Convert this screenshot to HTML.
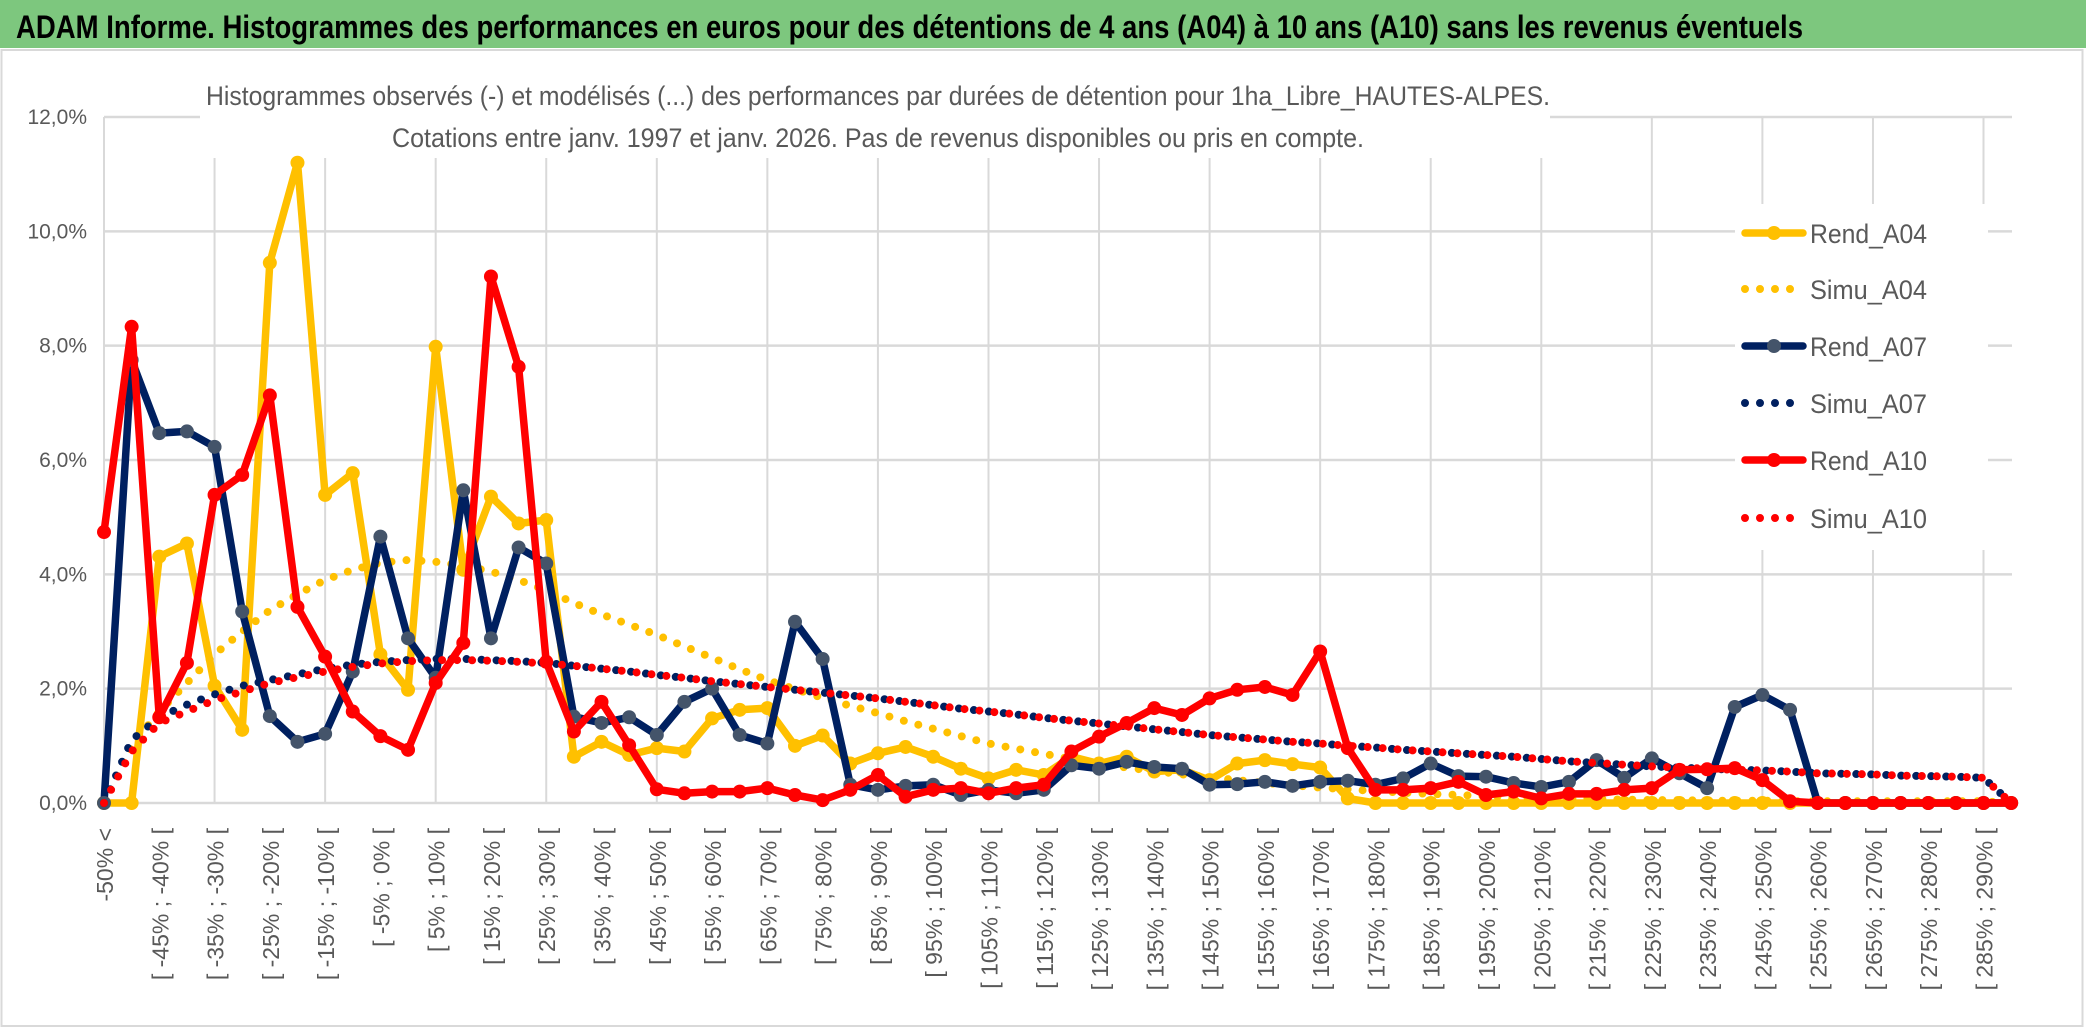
<!DOCTYPE html>
<html><head><meta charset="utf-8"><style>
html,body{margin:0;padding:0;background:#fff;}
svg{display:block;font-family:"Liberation Sans",sans-serif;}
</style></head><body>
<svg id="chart" width="2086" height="1031" viewBox="0 0 2086 1031" xmlns="http://www.w3.org/2000/svg">
<rect x="0" y="0" width="2086" height="1031" fill="#fff"/>
<rect x="0" y="0" width="2086" height="48" fill="#7DC77E"/>
<text x="16" y="38" font-size="32" font-weight="bold" fill="#000" textLength="1787" lengthAdjust="spacingAndGlyphs">ADAM Informe. Histogrammes des performances en euros pour des détentions de 4 ans (A04) à 10 ans (A10) sans les revenus éventuels</text>
<rect x="1.5" y="50" width="2081" height="976" fill="none" stroke="#d9d9d9" stroke-width="2"/>
<g id="grid"></g>
<rect x="200" y="60" width="1350" height="98" fill="#fff"/>
<text x="878" y="105" font-size="27" fill="#595959" text-anchor="middle" textLength="1344" lengthAdjust="spacingAndGlyphs">Histogrammes observés (-) et modélisés (...) des performances par durées de détention pour 1ha_Libre_HAUTES-ALPES.</text>
<text x="878" y="147" font-size="27" fill="#595959" text-anchor="middle" textLength="972" lengthAdjust="spacingAndGlyphs">Cotations entre janv. 1997 et janv. 2026. Pas de revenus disponibles ou pris en compte.</text>
<g id="yaxis"></g>
<g id="xaxis"></g>
<g id="series"></g>
<rect x="1735" y="204" width="253" height="346" fill="#fff"/>
<g id="legend"></g>
</svg>
<script>
const rendA04 = [0,0,4.31,4.54,2.05,1.28,9.45,11.2,5.39,5.77,2.6,1.98,7.98,4.08,5.36,4.89,4.95,0.81,1.07,0.84,0.96,0.9,1.48,1.63,1.66,1.0,1.18,0.69,0.87,0.98,0.81,0.6,0.43,0.58,0.49,0.81,0.69,0.81,0.55,0.58,0.4,0.69,0.75,0.68,0.62,0.08,0,0,0,0,0,0,0,0,0,0,0,0,0,0,0,0,0,0,0,0,0,0,0,0];
const rendA07 = [0,7.75,6.47,6.5,6.23,3.35,1.52,1.07,1.21,2.3,4.66,2.88,2.19,5.47,2.88,4.47,4.19,1.51,1.4,1.5,1.19,1.77,2.0,1.19,1.04,3.17,2.52,0.32,0.23,0.3,0.32,0.14,0.23,0.17,0.23,0.66,0.6,0.72,0.63,0.6,0.32,0.33,0.37,0.3,0.37,0.39,0.32,0.43,0.69,0.47,0.46,0.35,0.28,0.37,0.75,0.44,0.78,0.52,0.26,1.68,1.89,1.63,0,0,0,0,0,0,0,0];
const rendA10 = [4.74,8.33,1.5,2.45,5.39,5.74,7.13,3.43,2.56,1.6,1.17,0.93,2.1,2.8,9.21,7.63,2.47,1.25,1.77,1.01,0.24,0.17,0.2,0.2,0.26,0.14,0.05,0.23,0.49,0.11,0.23,0.26,0.17,0.26,0.32,0.9,1.16,1.4,1.66,1.54,1.83,1.98,2.03,1.89,2.65,0.96,0.23,0.23,0.26,0.37,0.14,0.2,0.08,0.16,0.16,0.23,0.26,0.58,0.59,0.61,0.4,0.03,0,0,0,0,0,0,0,0];
const simuA04 = [0,1.0,1.6,2.1,2.6,3.0,3.37,3.65,3.9,4.08,4.2,4.25,4.22,4.15,4.05,3.9,3.72,3.5,3.3,3.12,2.94,2.74,2.54,2.34,2.15,1.99,1.84,1.7,1.57,1.43,1.3,1.17,1.04,0.95,0.86,0.77,0.69,0.62,0.56,0.5,0.45,0.4,0.35,0.31,0.27,0.24,0.21,0.18,0.16,0.14,0.12,0.1,0.09,0.08,0.07,0.06,0.05,0.05,0.04,0.04,0.04,0.03,0.03,0.03,0.03,0.03,0.03,0.03,0.03,0];
const simuA07 = [0,1.1,1.5,1.72,1.9,2.05,2.15,2.25,2.35,2.42,2.47,2.5,2.52,2.52,2.5,2.48,2.45,2.4,2.35,2.3,2.24,2.19,2.13,2.08,2.03,1.98,1.93,1.88,1.83,1.77,1.71,1.65,1.6,1.55,1.49,1.44,1.39,1.34,1.29,1.24,1.19,1.15,1.11,1.07,1.04,1.0,0.97,0.93,0.9,0.87,0.84,0.81,0.77,0.73,0.7,0.67,0.64,0.62,0.6,0.58,0.57,0.55,0.52,0.51,0.5,0.48,0.47,0.46,0.44,0];
const simuA10 = [0,0.9,1.4,1.6,1.8,1.95,2.1,2.2,2.3,2.38,2.44,2.48,2.5,2.5,2.49,2.47,2.44,2.4,2.35,2.3,2.24,2.19,2.13,2.08,2.03,1.98,1.93,1.88,1.83,1.77,1.71,1.65,1.6,1.55,1.49,1.44,1.39,1.34,1.29,1.24,1.19,1.15,1.11,1.07,1.04,1.0,0.97,0.93,0.9,0.87,0.84,0.81,0.77,0.73,0.7,0.67,0.64,0.62,0.6,0.58,0.57,0.55,0.52,0.51,0.5,0.48,0.47,0.46,0.44,0];
const yTicks = [0,2,4,6,8,10,12];
const yTickLabels = ["0,0%","2,0%","4,0%","6,0%","8,0%","10,0%","12,0%"];
const categories = [];
for (let k = 0; k < rendA04.length; k++) {
  if (k === 0) categories.push("-50% <");
  else if (k % 2 === 0) { const a = 5*k - 55; categories.push("[ " + a + "% ; " + (a+5) + "% ["); }
  else categories.push("");
}

const NS = "http://www.w3.org/2000/svg";
const X0 = 104, DX = 27.64, Y0 = 803, YMAX = 117, VMAX = 12, XEND = 2012;
const xs = i => X0 + i*DX;
const ys = v => Y0 - v/VMAX*(Y0-YMAX);
function mk(tag, attrs, parent){ const e=document.createElementNS(NS,tag); for(const k in attrs) e.setAttribute(k,attrs[k]); parent.appendChild(e); return e; }

const grid = document.getElementById('grid');
yTicks.forEach((t)=>{
  const l = mk('line',{x1:X0,x2:XEND,y1:ys(t),y2:ys(t),stroke:'#d9d9d9','stroke-width':2.5},grid);
  
  
});
for (let i=0;i<categories.length;i+=4){
  const l = mk('line',{x1:xs(i),x2:xs(i),y1:ys(VMAX),y2:Y0,stroke:'#d9d9d9','stroke-width':2},grid);
  
  
}

const yaxis = document.getElementById('yaxis');
yTicks.forEach((t,j)=>{
  const tx = mk('text',{x:87,y:ys(t)+7,'font-size':21,fill:'#595959','text-anchor':'end'},yaxis);
  tx.textContent = yTickLabels[j];
  
  
});
const xaxis = document.getElementById('xaxis');
categories.forEach((c,i)=>{
  if(!c) return;
  const x = xs(i)+9, y = 828;
  const tx = mk('text',{x:x,y:y,'font-size':23,fill:'#595959','text-anchor':'end',transform:'rotate(-90 '+x+' '+y+')'},xaxis);
  tx.textContent = c;
  
  
});

const series = document.getElementById('series');
function pts(arr){ return arr.map((v,i)=>xs(i).toFixed(1)+','+ys(v).toFixed(1)).join(' '); }
function dotted(arr,color,name){
  const p = mk('polyline',{points:pts(arr),fill:'none',stroke:color,'stroke-width':8,'stroke-linecap':'round','stroke-dasharray':'0 15'},series);
  
  
}
function solid(arr,color,mcolor,name){
  const g = mk('g',{},series);
  
  
  mk('polyline',{points:pts(arr),fill:'none',stroke:color,'stroke-width':7.5,'stroke-linejoin':'round'},g);
  arr.forEach((v,i)=>{
    const c = mk('circle',{cx:xs(i),cy:ys(v),r:7,fill:mcolor},g);
    
    
  });
}
dotted(simuA04,'#FFC000','simu-a04-line');
solid(rendA04,'#FFC000','#FFC000','rend-a04-line');
solid(rendA07,'#002060','#44546A','rend-a07-line');
dotted(simuA07,'#002060','simu-a07-line');
dotted(simuA10,'#FF0000','simu-a10-line');
solid(rendA10,'#FF0000','#FF0000','rend-a10-line');

const legend = document.getElementById('legend');
const legItems = [
  ['Rend_A04','#FFC000','#FFC000',false],
  ['Simu_A04','#FFC000','#FFC000',true],
  ['Rend_A07','#002060','#44546A',false],
  ['Simu_A07','#002060','#002060',true],
  ['Rend_A10','#FF0000','#FF0000',false],
  ['Simu_A10','#FF0000','#FF0000',true]
];
const legY = [233,289,346,403,460,518];
legItems.forEach((it,j)=>{
  const g = mk('g',{},legend);
  
  
  const y = legY[j];
  if(it[3]){
    mk('line',{x1:1745,x2:1800,y1:y,y2:y,stroke:it[1],'stroke-width':8,'stroke-linecap':'round','stroke-dasharray':'0 15'},g);
  } else {
    mk('line',{x1:1745,x2:1803,y1:y,y2:y,stroke:it[1],'stroke-width':7.5,'stroke-linecap':'round'},g);
    mk('circle',{cx:1774,cy:y,r:7,fill:it[2]},g);
  }
  const t = mk('text',{x:1810,y:y+10,'font-size':27,fill:'#595959',textLength:117,lengthAdjust:'spacingAndGlyphs'},g);
  t.textContent = it[0];
});
</script>
</body></html>
